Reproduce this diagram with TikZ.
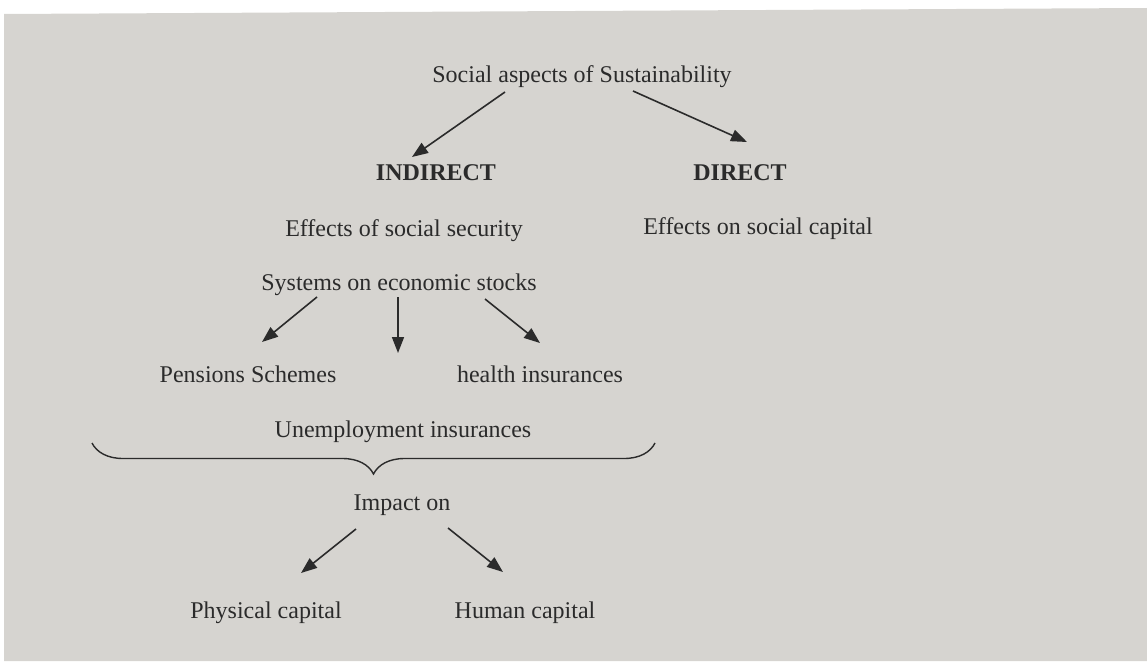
\documentclass[tikz,border=0pt]{standalone}
\usepackage{fontspec}
\setmainfont{Liberation Serif}
\usepackage{xcolor}
\usetikzlibrary{arrows.meta,decorations.pathreplacing}
\definecolor{paper}{HTML}{D6D4D0}
\definecolor{ink}{HTML}{2B2B2B}

\begin{document}
\begin{tikzpicture}[x=1pt,y=-1pt,txt/.style={anchor=base, inner sep=0pt, text=ink, font=\fontsize{24}{28}\selectfont}]
\tikzstyle{hd}=[txt, font=\fontsize{24}{28}\selectfont\bfseries]
\tikzstyle{arr}=[draw=ink, line width=1.6pt, -{Triangle[length=16pt,width=12pt]}]
\useasboundingbox (0,0) rectangle (1147,661);
% scanned page, slightly skewed top edge
\fill[paper] (4,14) -- (1147,8) -- (1147,661) -- (4,661) -- cycle;
\node[txt] (soc) at (582,82){Social aspects of Sustainability};
\node[hd]  (ind) at (436,180){INDIRECT};
\node[hd]  (dir) at (740,180){DIRECT};
\node[txt] (effind) at (404,236){Effects of social security};
\node[txt] (effdir) at (758,234){Effects on social capital};
\node[txt] (sys) at (399,290){Systems on economic stocks};
\node[txt] (pen) at (248,382){Pensions Schemes};
\node[txt] (hea) at (540,382){health insurances};
\node[txt] (unemp) at (403,437){Unemployment insurances};
\node[txt] (imp) at (402,510){Impact on};
\node[txt] (phy) at (266,618){Physical capital};
\node[txt] (hum) at (525,618){Human capital};
% free end of the middle arrow
\coordinate (mid) at (398,353);
\draw[arr] ([xshift=-77pt,yshift=-10pt]soc.base) -- ([xshift=-24pt,yshift=23pt]ind.base);
\draw[arr] ([xshift=51pt,yshift=-9pt]soc.base) -- ([xshift=7pt,yshift=38pt]dir.base);
\draw[arr] ([xshift=-82pt,yshift=-7pt]sys.base) -- ([xshift=14pt,yshift=40pt]pen.base);
\draw[arr] ([xshift=-1pt,yshift=-7pt]sys.base) -- (mid);
\draw[arr] ([xshift=86pt,yshift=-9pt]sys.base) -- ([yshift=39pt]hea.base);
\draw[draw=ink, line width=1.4pt, decorate, decoration={brace, mirror, amplitude=31pt}] ([xshift=-311pt,yshift=-6pt]unemp.base) -- ([xshift=252pt,yshift=-6pt]unemp.base);
\draw[arr] ([xshift=-46pt,yshift=-19pt]imp.base) -- ([xshift=35pt,yshift=45pt]phy.base);
\draw[arr] ([xshift=46pt,yshift=-18pt]imp.base) -- ([xshift=-22pt,yshift=46pt]hum.base);
\end{tikzpicture}
\end{document}
